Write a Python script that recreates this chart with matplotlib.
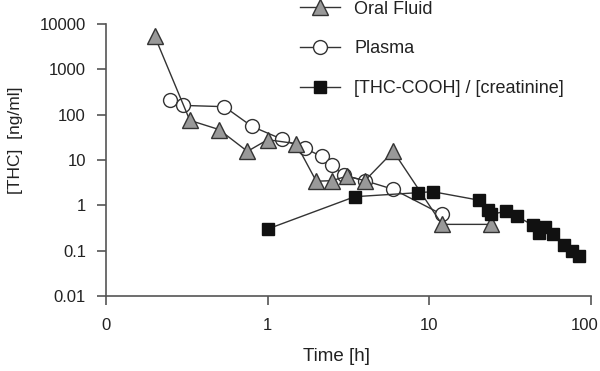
import matplotlib
matplotlib.use("Agg")
import matplotlib.pyplot as plt
import matplotlib.transforms as mtransforms
from matplotlib.ticker import NullLocator, FixedLocator, FixedFormatter

plt.rcParams['font.family'] = ['Liberation Sans', 'DejaVu Sans']

# oral fluid
t_oral = [0.2, 0.33, 0.5, 0.75, 1.0, 1.5, 2.0, 2.5, 3.1, 4.0, 6.0, 12.0, 24.0]
v_oral = [5400, 75, 47, 15.5, 28, 23, 3.4, 3.5, 4.4, 3.5, 15.5, 0.38, 0.38]

# plasma
t_plasma = [0.25, 0.3, 0.54, 0.8, 1.22, 1.7, 2.16, 2.5, 2.95, 4.0, 6.0, 12.0]
v_plasma = [208, 160, 150, 55, 29, 18, 12, 7.6, 4.6, 3.5, 2.25, 0.63]

# THC-COOH / creatinine
t_cooh = [1.0, 3.46, 8.5, 10.5, 20.3, 23, 24, 30, 35, 44, 48, 52, 58.6, 68, 76, 85]
v_cooh = [0.3, 1.55, 1.9, 2.0, 1.3, 0.78, 0.63, 0.74, 0.57, 0.36, 0.25, 0.33, 0.23, 0.13, 0.1, 0.078]

xticks = [0.1, 1, 10, 100]
xtick_labels = ["0", "1", "10", "100"]
yticks = [0.01, 0.1, 1, 10, 100, 1000, 10000]
ytick_labels = ["0.01", "0.1", "1", "10", "100", "1000", "10000"]

line_col = "#333333"
axis_col = "#555555"
text_col = "#222222"

fig = plt.figure(figsize=(6, 3.71), dpi=100)
ax = fig.add_axes([0.1767, 0.2022, 0.808, 0.7331])

ax.plot(t_oral, v_oral, color=line_col, lw=1, marker='^', ms=12,
        mfc='#999999', mec='#333333', mew=1, label='Oral Fluid', zorder=3)
ax.plot(t_plasma, v_plasma, color=line_col, lw=1, marker='o', ms=10,
        mfc='white', mec='#333333', mew=1, label='Plasma', zorder=2)
ax.plot(t_cooh, v_cooh, color=line_col, lw=1, marker='s', ms=8,
        mfc='#111111', mec='#111111', mew=1, label='[THC-COOH] / [creatinine]', zorder=4)

ax.set_xscale('log')
ax.set_yscale('log')
ax.set_xlim(0.1, 100)
ax.set_ylim(0.01, 10000)

ax.xaxis.set_major_locator(FixedLocator(xticks))
ax.xaxis.set_major_formatter(FixedFormatter(xtick_labels))
ax.yaxis.set_major_locator(FixedLocator(yticks))
ax.yaxis.set_major_formatter(FixedFormatter(ytick_labels))
ax.xaxis.set_minor_locator(NullLocator())
ax.yaxis.set_minor_locator(NullLocator())

for s in ['top', 'right']:
    ax.spines[s].set_visible(False)
for s in ['left', 'bottom']:
    ax.spines[s].set_color(axis_col)
    ax.spines[s].set_linewidth(1.2)
ax.tick_params(axis='both', direction='out', length=6.5, width=1.2,
               color=axis_col, labelsize=12, labelcolor=text_col)
ax.tick_params(axis='x', pad=9)
ax.tick_params(axis='y', pad=8)

# last x label sits a little left of its tick, as in the original
fig.canvas.draw()
last = ax.get_xticklabels()[-1]
last.set_transform(last.get_transform() +
                   mtransforms.ScaledTranslation(-6 / 100, 0, fig.dpi_scale_trans))

ax.set_xlabel("Time [h]", fontsize=13.5, color=text_col)
ax.xaxis.set_label_coords(0.476, -0.19)
ax.set_ylabel("[THC]  [ng/ml]", fontsize=12.5, color=text_col)
ax.yaxis.set_label_coords(-0.172, 0.574)

leg = ax.legend(loc='upper left', bbox_to_anchor=(0.385, 1.112), frameon=False,
                fontsize=13, handlelength=2.2, handletextpad=0.8,
                labelspacing=1.25, borderaxespad=0)
for t in leg.get_texts():
    t.set_color(text_col)

fig.savefig("out.png", dpi=100)
